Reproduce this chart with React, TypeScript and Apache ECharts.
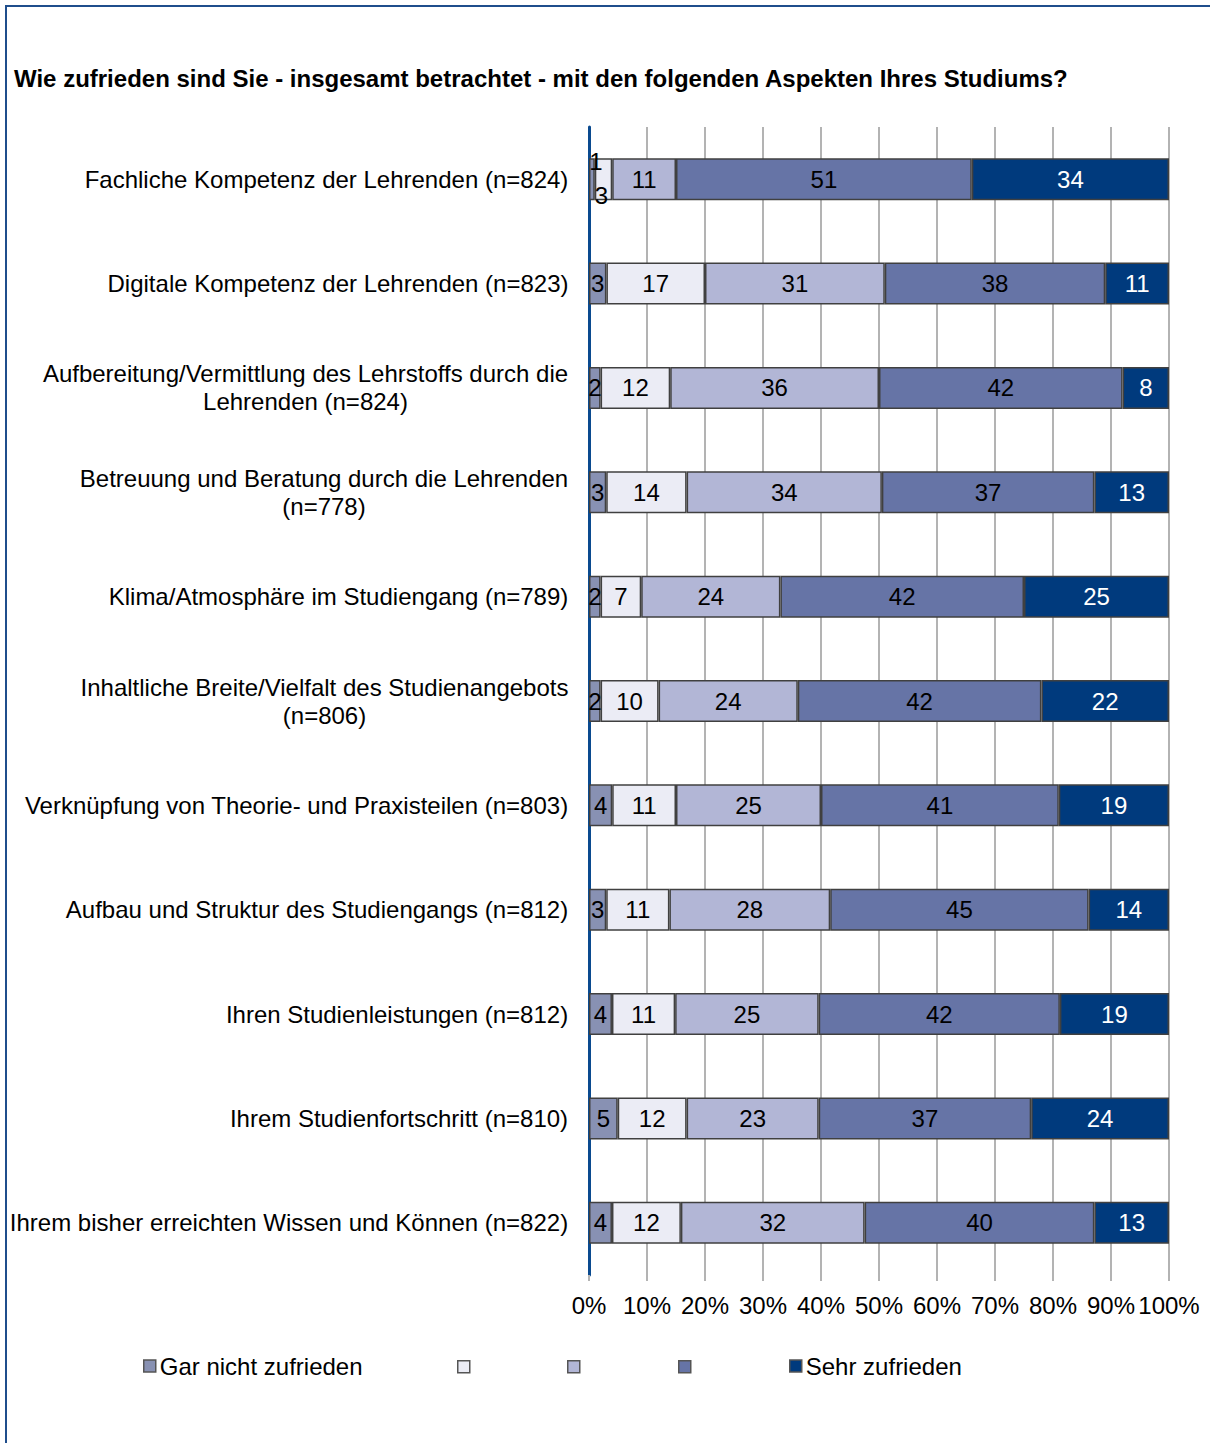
import React, { useEffect, useRef } from "react";
import * as echarts from "echarts";

const TITLE = "Wie zufrieden sind Sie - insgesamt betrachtet - mit den folgenden Aspekten Ihres Studiums?";

const categories = [
  "Fachliche Kompetenz der Lehrenden (n=824)",
  "Digitale Kompetenz der Lehrenden (n=823)",
  "Aufbereitung/Vermittlung des Lehrstoffs durch die\nLehrenden (n=824)",
  "Betreuung und Beratung durch die Lehrenden\n(n=778)",
  "Klima/Atmosphäre im Studiengang (n=789)",
  "Inhaltliche Breite/Vielfalt des Studienangebots\n(n=806)",
  "Verknüpfung von Theorie- und Praxisteilen (n=803)",
  "Aufbau und Struktur des Studiengangs (n=812)",
  "Ihren Studienleistungen (n=812)",
  "Ihrem Studienfortschritt (n=810)",
  "Ihrem bisher erreichten Wissen und Können (n=822)",
];

const seriesNames = ["Gar nicht zufrieden", "s2", "s3", "s4", "Sehr zufrieden"];

const garNicht = [1, 3, 2, 3, 2, 2, 4, 3, 4, 5, 4];
const stufe2 = [3, 17, 12, 14, 7, 10, 11, 11, 11, 12, 12];
const stufe3 = [11, 31, 36, 34, 24, 24, 25, 28, 25, 23, 32];
const stufe4 = [51, 38, 42, 37, 42, 42, 41, 45, 42, 37, 40];
const sehr = [34, 11, 8, 13, 25, 22, 19, 14, 19, 24, 13];

const xTicks = ["0%", "10%", "20%", "30%", "40%", "50%", "60%", "70%", "80%", "90%", "100%"];

const colors = ["#8891b3", "#ebecf5", "#b2b6d6", "#6674a6", "#003a7d"];
const labelColors = ["#000", "#000", "#000", "#000", "#fff"];

const FONT = "Liberation Sans, Arial, sans-serif";
const FS = 24;

export default function App() {
  const ref = useRef<HTMLDivElement>(null);
  useEffect(() => {
    if (!ref.current) return;
    const chart = echarts.init(ref.current, null, { renderer: "svg" });
    const all = [garNicht, stufe2, stufe3, stufe4, sehr];
    const sums = categories.map((_, i) => all.reduce((a, s) => a + s[i], 0));

    const canvas = document.createElement("canvas");
    const ctx = canvas.getContext("2d")!;
    ctx.font = `${FS}px Liberation Sans`;
    const rich: any = {};
    categories.forEach((c, i) => {
      const lines = c.split("\n");
      const w = Math.max(...lines.map((l) => ctx.measureText(l).width));
      rich["r" + i] = {
        width: Math.ceil(w) + 1,
        align: "center",
        fontSize: FS,
        fontFamily: FONT,
        color: "#000",
        lineHeight: 28,
      };
    });

    const series = all.map((arr, si) => ({
      name: seriesNames[si],
      type: "bar",
      stack: "total",
      barWidth: 42,
      itemStyle: { color: colors[si], borderColor: "#404040", borderWidth: 1.5 },
      label: {
        show: true,
        position: "inside",
        color: labelColors[si],
        fontSize: FS,
        fontFamily: FONT,
        formatter: (p: any) => String(arr[p.dataIndex]),
      },
      data: arr.map((v, i) => {
        const item: any = { value: (v / sums[i]) * 100 };
        if (i === 0 && si === 0) item.label = { offset: [4, -18] };
        if (i === 0 && si === 1) item.label = { offset: [-2, 16] };
        return item;
      }),
    }));

    const legendPos = [143, 457, 567, 678, 789];
    const legends = seriesNames.map((n, i) => {
      const hasText = n === "Gar nicht zufrieden" || n === "Sehr zufrieden";
      return {
        data: [n],
        left: legendPos[i],
        top: hasText ? 1352 : 1360,
        padding: 0,
        icon: "rect",
        itemWidth: 12,
        itemHeight: 12,
        itemGap: 0,
        selectedMode: false,
        textStyle: {
          fontSize: FS,
          fontFamily: FONT,
          color: "#000",
          lineHeight: 28,
          padding: [0, 0, 0, -1],
        },
        formatter: (name: string) =>
          name === "Gar nicht zufrieden" || name === "Sehr zufrieden" ? name : "",
        itemStyle: { borderColor: "#555", borderWidth: 1.5 },
      };
    });

    chart.setOption({
      animation: false,
      backgroundColor: "#fff",
      title: {
        text: TITLE,
        left: 9,
        top: 61,
        textStyle: { fontSize: 24, fontWeight: "bold", fontFamily: FONT, color: "#000" },
      },
      graphic: [
        {
          type: "rect",
          shape: { x: 6, y: 6, width: 1400, height: 1600 },
          style: { fill: "none", stroke: "#1f4e8c", lineWidth: 2 },
          z: 100,
        },
      ],
      legend: legends,
      grid: { left: 589, right: 41, top: 127, bottom: 168, containLabel: false },
      xAxis: {
        type: "value",
        min: 0,
        max: 100,
        interval: 10,
        axisLine: { show: false },
        axisTick: { show: true, length: 6, lineStyle: { color: "#b3b3b3", width: 2 } },
        splitLine: { show: true, lineStyle: { color: "#b3b3b3", width: 2 } },
        axisLabel: {
          margin: 18,
          fontSize: FS,
          fontFamily: FONT,
          color: "#000",
          formatter: (v: number) => xTicks[Math.round(v / 10)],
        },
      },
      yAxis: {
        type: "category",
        inverse: true,
        data: categories,
        axisLine: { show: true, lineStyle: { color: "#0a4a8f", width: 3 } },
        axisTick: { show: false },
        axisLabel: {
          margin: 20,
          fontSize: FS,
          fontFamily: FONT,
          color: "#000",
          lineHeight: 28,
          formatter: (v: string, i: number) =>
            v.split("\n").map((l) => `{r${i}|${l}}`).join("\n"),
          rich,
        },
      },
      series,
    });
    return () => chart.dispose();
  }, []);
  return (
    <div
      ref={ref}
      style={{ position: "fixed", left: 0, top: 0, width: 1210, height: 1443 }}
    />
  );
}
